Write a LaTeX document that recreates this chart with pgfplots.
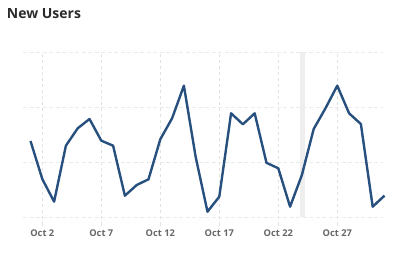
\documentclass[border=0pt]{standalone}
\usepackage{fontspec}
\setmainfont{Open Sans}
\usepackage{pgfplots}
\pgfplotsset{compat=1.18}
\definecolor{linec}{HTML}{27507F}
\definecolor{titlec}{HTML}{2B2B2B}
\definecolor{tickc}{HTML}{666666}
\definecolor{gridh}{HTML}{EBEBEB}
\definecolor{gridv}{HTML}{E2E2E2}
\definecolor{bandc}{HTML}{EEEEEE}
\begin{document}
\begin{tikzpicture}[x=1bp,y=1bp]
\path[use as bounding box] (0,0) rectangle (402,256);
\node[anchor=base west, inner sep=0pt, font=\fontsize{14bp}{16bp}\selectfont\bfseries, text=titlec] at (6.7,237.7) {New Users};
\begin{axis}[
  at={(23bp,30.5bp)}, anchor=south west,
  scale only axis, width=359.7bp, height=173.2bp,
  xmin=0.364, xmax=30.85, ymin=-0.149, ymax=3,
  clip=false,
  axis line style={draw=none},
  major tick length=0pt,
  xtick={2,7,12,17,22,27},
  xticklabels={Oct 2,Oct 7,Oct 12,Oct 17,Oct 22,Oct 27},
  ytick={0,1,2,3}, yticklabels={},
  xmajorgrids, ymajorgrids,
  x grid style={gridv, line width=0.8bp, dash pattern=on 3bp off 3bp},
  y grid style={gridh, line width=1.3bp, dash pattern=on 4bp off 2.5bp},
  xticklabel style={font=\fontsize{9.3bp}{11bp}\selectfont\bfseries, text=tickc, inner sep=0pt, yshift=-4.5bp},
]
\addplot[fill=bandc, draw=none, forget plot] coordinates {(23.86,0) (23.86,3) (24.24,3) (24.24,0)} -- cycle;
\addplot[linec, line width=2.4bp, line join=round] coordinates {
(1,1.387) (2,0.696) (3,0.284) (4,1.302) (5,1.618) (6,1.787) (7,1.393) (8,1.302)
(9,0.393) (10,0.587) (11,0.691) (12,1.418) (13,1.800) (14,2.393) (15,1.096) (16,0.102)
(17,0.375) (18,1.891) (19,1.691) (20,1.891) (21,0.991) (22,0.891) (23,0.193) (24,0.769)
(25,1.605) (26,1.982) (27,2.393) (28,1.891) (29,1.696) (30,0.193) (31,0.393)
};
\end{axis}
\end{tikzpicture}
\end{document}
